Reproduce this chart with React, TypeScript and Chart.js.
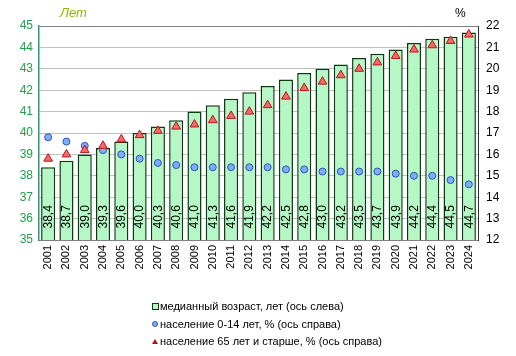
import React, { useEffect, useRef } from "react";
import { Chart, registerables } from "chart.js";

Chart.register(...registerables);

const years = ["2001","2002","2003","2004","2005","2006","2007","2008","2009","2010","2011","2012","2013","2014","2015","2016","2017","2018","2019","2020","2021","2022","2023","2024"];
const medianAge = [38.4,38.7,39.0,39.3,39.6,40.0,40.3,40.6,41.0,41.3,41.6,41.9,42.2,42.5,42.8,43.0,43.2,43.5,43.7,43.9,44.2,44.4,44.5,44.7];
const pop0to14 = [16.8,16.6,16.4,16.2,16.0,15.8,15.6,15.5,15.4,15.4,15.4,15.4,15.4,15.3,15.3,15.2,15.2,15.2,15.2,15.1,15.0,15.0,14.8,14.6];
const pop65plus = [15.8,16.0,16.2,16.4,16.7,16.9,17.1,17.3,17.4,17.6,17.8,18.0,18.3,18.7,19.1,19.4,19.7,20.0,20.3,20.6,20.9,21.1,21.3,21.6];
const legendLabels = ["медианный возраст, лет (ось слева)", "население 0-14 лет, % (ось справа)", "население 65 лет и старше, % (ось справа)"];
const leftTitle = "Лет";
const rightTitle = "%";

const FONT = "'Liberation Sans', Arial, sans-serif";
const BAR_FILL = "#B5F8C6";
const BAR_BORDER = "#0B3A12";
const CIRCLE_FILL = "#7FAEF5";
const CIRCLE_BORDER = "#2F4FC8";
const TRI_FILL = "#F26A6A";
const TRI_BORDER = "#C0101A";
const LEFT_COLOR = "#22A04A";

const valueLabels = {
  id: "valueLabels",
  afterDatasetsDraw(chart: any) {
    const meta = chart.getDatasetMeta(0);
    const ctx = chart.ctx;
    const bottom = chart.chartArea.bottom;
    ctx.save();
    ctx.font = `12px ${FONT}`;
    ctx.fillStyle = "#000";
    ctx.textAlign = "left";
    ctx.textBaseline = "middle";
    meta.data.forEach((bar: any, i: number) => {
      ctx.save();
      ctx.translate(bar.x, bottom - 11.5);
      ctx.rotate(-Math.PI / 2);
      ctx.fillText(medianAge[i].toFixed(1).replace(".", ","), 0, 0.5);
      ctx.restore();
    });
    ctx.restore();
  },
};

export default function App() {
  const ref = useRef<HTMLCanvasElement>(null);
  useEffect(() => {
    const chart = new Chart(ref.current as HTMLCanvasElement, {
      type: "bar",
      data: {
        labels: years,
        datasets: [
          {
            type: "line",
            data: pop65plus,
            yAxisID: "y1",
            showLine: false,
            pointStyle: "triangle",
            pointRadius: 5,
            pointBackgroundColor: TRI_FILL,
            pointBorderColor: TRI_BORDER,
            pointBorderWidth: 1,
            order: 1,
          } as any,
          {
            type: "line",
            data: pop0to14,
            yAxisID: "y1",
            showLine: false,
            pointStyle: "circle",
            pointRadius: 3.5,
            pointBackgroundColor: CIRCLE_FILL,
            pointBorderColor: CIRCLE_BORDER,
            pointBorderWidth: 1,
            order: 2,
          } as any,
          {
            type: "bar",
            data: medianAge,
            yAxisID: "y",
            backgroundColor: BAR_FILL,
            borderColor: BAR_BORDER,
            borderWidth: 1.5,
            categoryPercentage: 1,
            barPercentage: 0.77,
            order: 3,
          } as any,
        ],
      },
      options: {
        responsive: false,
        animation: false,
        layout: { padding: { top: 26, left: 0, right: 0, bottom: 0 } },
        plugins: { legend: { display: false }, tooltip: { enabled: false } },
        scales: {
          x: {
            grid: { display: false, drawTicks: false },
            border: { display: true, color: "#808080" },
            ticks: {
              minRotation: 90,
              maxRotation: 90,
              autoSkip: false,
              padding: 5,
              color: "#000",
              font: { family: FONT, size: 11 },
            },
            afterFit(scale: any) { scale.height = 116; },
          },
          y: {
            position: "left",
            min: 35,
            max: 45,
            ticks: { stepSize: 1, padding: 6, color: LEFT_COLOR, font: { family: FONT, size: 12 } },
            grid: {
              drawTicks: false,
              color: (c: any) => (c.tick && c.tick.value === 45 ? "#808080" : "#C0C0C0"),
            },
            border: { display: true, color: "#20A070", width: 1.5 },
            afterFit(scale: any) { scale.width = 39; },
          },
          y1: {
            position: "right",
            min: 12,
            max: 22,
            ticks: { stepSize: 1, padding: 8, color: "#000", font: { family: FONT, size: 12 } },
            grid: { display: false, drawTicks: false },
            border: { display: true, color: "#303030", width: 1 },
            afterFit(scale: any) { scale.width = 38; },
          },
        },
      },
      plugins: [valueLabels],
    } as any);
    return () => chart.destroy();
  }, []);

  const legendRow = (i: number, marker: React.ReactNode) => (
    <div style={{ position: "absolute", left: 150, top: 299 + i * 17.5, height: 14, display: "flex", alignItems: "center", fontFamily: FONT, fontSize: 11, color: "#000", whiteSpace: "nowrap" }}>
      <div style={{ width: 10, display: "flex", justifyContent: "center", alignItems: "center" }}>{marker}</div>
      <span>{legendLabels[i]}</span>
    </div>
  );

  return (
    <div style={{ position: "fixed", left: 0, top: 0, width: 516, height: 356, background: "#fff" }}>
      <canvas ref={ref} width={516} height={356} style={{ width: 516, height: 356, display: "block" }} />
      <div style={{ position: "absolute", left: 60, top: 5, fontFamily: FONT, fontSize: 13, fontStyle: "italic", color: "#8FB800" }}>{leftTitle}</div>
      <div style={{ position: "absolute", left: 455, top: 6, fontFamily: FONT, fontSize: 12, color: "#000" }}>{rightTitle}</div>
      {legendRow(0, <div style={{ width: 5, height: 5, background: BAR_FILL, border: `1px solid ${BAR_BORDER}` }} />)}
      {legendRow(1, <div style={{ width: 4, height: 4, borderRadius: "50%", background: CIRCLE_FILL, border: `1px solid ${CIRCLE_BORDER}` }} />)}
      {legendRow(2, <div style={{ width: 0, height: 0, borderLeft: "3px solid transparent", borderRight: "3px solid transparent", borderBottom: `5px solid ${TRI_BORDER}` }} />)}
    </div>
  );
}
